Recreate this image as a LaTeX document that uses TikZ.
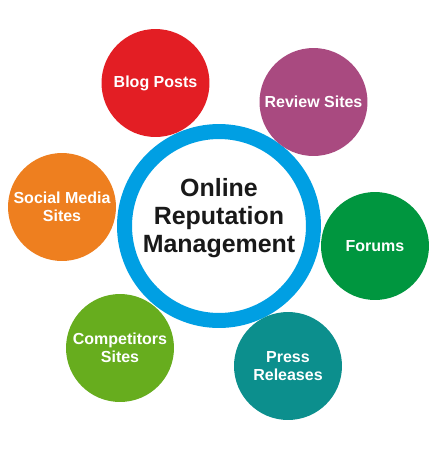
\documentclass[tikz,border=0pt]{standalone}
\usepackage{fontspec}
\setmainfont{Liberation Sans}
\usepackage{xcolor}
\usepackage{tikz}
\definecolor{blogR}{HTML}{E31E24}
\definecolor{revwP}{HTML}{A94A80}
\definecolor{socO}{HTML}{EE7F1F}
\definecolor{forG}{HTML}{00963F}
\definecolor{compG}{HTML}{67AD1E}
\definecolor{pressT}{HTML}{0C8F8D}
\definecolor{ormB}{HTML}{009FE3}

\begin{document}
\begin{tikzpicture}[x=0.02cm,y=-0.02cm, font=\bfseries\fontsize{9.1}{10.4}\selectfont,
  bubble/.style={circle, minimum size=2.16cm, inner sep=0pt, align=center, text=white},
  hub/.style={circle, draw=ormB, line width=0.3cm, fill=white, minimum size=3.78cm, inner sep=0pt},
  hubtext/.style={align=center, text=black!90, inner sep=0pt, font=\bfseries\fontsize{14.2}{15.9}\selectfont},
  ]
\useasboundingbox[fill=white] (0,0) rectangle (437,458);
% ---- the hub
\node[hub] (orm) at (219,226) {};
\node[hubtext] (ormtext) at (219,218) {Online\\Reputation\\Management};
% ---- the sources round it
\node[bubble, fill=blogR]  (blog)  at (155.5,83)  {Blog Posts};
\node[bubble, fill=revwP]  (revw)  at (313.5,102) {Review Sites};
\node[bubble, fill=socO]   (soc)   at (62,207)    {Social Media\\Sites};
\node[bubble, fill=forG]   (forum) at (375,246)   {Forums};
\node[bubble, fill=compG]  (comp)  at (120,348)   {Competitors\\Sites};
\node[bubble, fill=pressT] (press) at (288,366)   {Press\\Releases};
\end{tikzpicture}
\end{document}
